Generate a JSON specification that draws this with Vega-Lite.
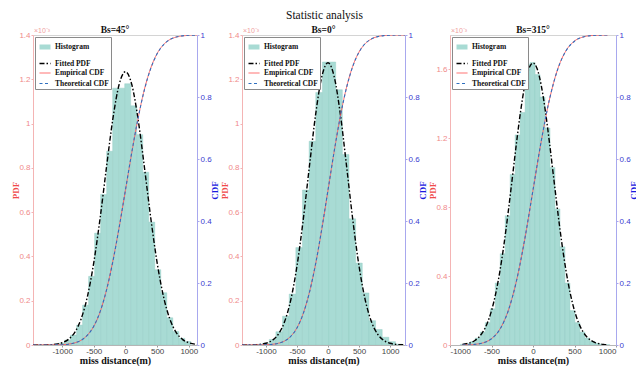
{
  "$schema": "https://vega.github.io/schema/vega-lite/v6.json",
  "background": "white",
  "padding": {"left": 10, "top": 10, "right": 2, "bottom": 0},
  "title": {"text": "Statistic analysis", "anchor": "middle", "frame": "bounds", "font": "Liberation Serif", "fontSize": 11.5, "fontWeight": "normal", "color": "#111", "offset": 3},
  "spacing": 45,
  "bounds": "flush",
  "resolve": {
    "scale": {"color": "independent", "strokeDash": "independent", "strokeWidth": "independent"},
    "legend": {"color": "independent", "strokeDash": "independent", "strokeWidth": "independent"}
  },
  "datasets": {
    "h1": [
      {"x0": -1437, "x1": -1342, "h": 0.0004}, {"x0": -1342, "x1": -1247, "h": 0.0008}, {"x0": -1247, "x1": -1152, "h": 0.0015},
      {"x0": -1152, "x1": -1057, "h": 0.004}, {"x0": -1057, "x1": -962, "h": 0.009}, {"x0": -962, "x1": -867, "h": 0.022},
      {"x0": -867, "x1": -772, "h": 0.045}, {"x0": -772, "x1": -677, "h": 0.09}, {"x0": -677, "x1": -582, "h": 0.18},
      {"x0": -582, "x1": -487, "h": 0.31}, {"x0": -487, "x1": -392, "h": 0.505}, {"x0": -392, "x1": -297, "h": 0.68},
      {"x0": -297, "x1": -202, "h": 0.875}, {"x0": -202, "x1": -107, "h": 1.16}, {"x0": -107, "x1": -12, "h": 1.16},
      {"x0": -12, "x1": 83, "h": 1.18}, {"x0": 83, "x1": 178, "h": 1.08}, {"x0": 178, "x1": 273, "h": 0.95},
      {"x0": 273, "x1": 368, "h": 0.78}, {"x0": 368, "x1": 463, "h": 0.555}, {"x0": 463, "x1": 558, "h": 0.34},
      {"x0": 558, "x1": 653, "h": 0.236}, {"x0": 653, "x1": 748, "h": 0.123}, {"x0": 748, "x1": 843, "h": 0.061},
      {"x0": 843, "x1": 938, "h": 0.03}, {"x0": 938, "x1": 1033, "h": 0.016}
    ],
    "p1": [
      {"x": -1460, "p": 0.00005}, {"x": -1400, "p": 0.0001}, {"x": -1300, "p": 0.00037}, {"x": -1200, "p": 0.00124},
      {"x": -1100, "p": 0.0037}, {"x": -1000, "p": 0.0102}, {"x": -900, "p": 0.0254}, {"x": -800, "p": 0.0574},
      {"x": -700, "p": 0.1179}, {"x": -600, "p": 0.2198}, {"x": -500, "p": 0.3724}, {"x": -400, "p": 0.5732},
      {"x": -300, "p": 0.8016}, {"x": -200, "p": 1.0188}, {"x": -100, "p": 1.1763}, {"x": 0, "p": 1.234},
      {"x": 100, "p": 1.1763}, {"x": 200, "p": 1.0188}, {"x": 300, "p": 0.8016}, {"x": 400, "p": 0.5732},
      {"x": 500, "p": 0.3724}, {"x": 600, "p": 0.2198}, {"x": 700, "p": 0.1179}, {"x": 800, "p": 0.0574},
      {"x": 900, "p": 0.0254}, {"x": 1000, "p": 0.0102}, {"x": 1100, "p": 0.0037}, {"x": 1130, "p": 0.0027}
    ],
    "t1": [
      {"x": -1460, "c": 0}, {"x": -1400, "c": 0.00001}, {"x": -1300, "c": 0.00003}, {"x": -1200, "c": 0.0001},
      {"x": -1100, "c": 0.00033}, {"x": -1000, "c": 0.00098}, {"x": -900, "c": 0.00267}, {"x": -800, "c": 0.00663},
      {"x": -700, "c": 0.0151}, {"x": -600, "c": 0.0316}, {"x": -500, "c": 0.0608}, {"x": -400, "c": 0.1078},
      {"x": -300, "c": 0.1765}, {"x": -200, "c": 0.2679}, {"x": -100, "c": 0.3784}, {"x": 0, "c": 0.5},
      {"x": 100, "c": 0.6216}, {"x": 200, "c": 0.7321}, {"x": 300, "c": 0.8235}, {"x": 400, "c": 0.8922},
      {"x": 500, "c": 0.9392}, {"x": 600, "c": 0.9684}, {"x": 700, "c": 0.9849}, {"x": 800, "c": 0.9934},
      {"x": 900, "c": 0.9973}, {"x": 1000, "c": 0.999}, {"x": 1100, "c": 0.9997}, {"x": 1130, "c": 0.9998}
    ],
    "e1": [
      {"x": -1460, "c": 0}, {"x": -1300, "c": 0.0001}, {"x": -1100, "c": 0.0004}, {"x": -1000, "c": 0.0011},
      {"x": -900, "c": 0.003}, {"x": -800, "c": 0.0069}, {"x": -700, "c": 0.0155}, {"x": -600, "c": 0.0322},
      {"x": -500, "c": 0.0605}, {"x": -400, "c": 0.1065}, {"x": -300, "c": 0.1772}, {"x": -200, "c": 0.2701},
      {"x": -100, "c": 0.3795}, {"x": 0, "c": 0.4987}, {"x": 100, "c": 0.6203}, {"x": 200, "c": 0.7318},
      {"x": 300, "c": 0.8251}, {"x": 400, "c": 0.8935}, {"x": 500, "c": 0.9401}, {"x": 600, "c": 0.9688},
      {"x": 700, "c": 0.9852}, {"x": 800, "c": 0.9931}, {"x": 900, "c": 0.997}, {"x": 1000, "c": 0.9992},
      {"x": 1033, "c": 1}, {"x": 1130, "c": 1}
    ],
    "h2": [
      {"x0": -1374, "x1": -1267, "h": 0.0003}, {"x0": -1267, "x1": -1160, "h": 0.001}, {"x0": -1160, "x1": -1053, "h": 0.003},
      {"x0": -1053, "x1": -946, "h": 0.008}, {"x0": -946, "x1": -839, "h": 0.025}, {"x0": -839, "x1": -732, "h": 0.06},
      {"x0": -732, "x1": -625, "h": 0.13}, {"x0": -625, "x1": -518, "h": 0.23}, {"x0": -518, "x1": -411, "h": 0.44},
      {"x0": -411, "x1": -304, "h": 0.7}, {"x0": -304, "x1": -197, "h": 0.92}, {"x0": -197, "x1": -90, "h": 1.14},
      {"x0": -90, "x1": 17, "h": 1.278}, {"x0": 17, "x1": 124, "h": 1.278}, {"x0": 124, "x1": 231, "h": 1.153},
      {"x0": 231, "x1": 338, "h": 0.86}, {"x0": 338, "x1": 445, "h": 0.57}, {"x0": 445, "x1": 552, "h": 0.37},
      {"x0": 552, "x1": 659, "h": 0.235}, {"x0": 659, "x1": 766, "h": 0.11}, {"x0": 766, "x1": 873, "h": 0.07},
      {"x0": 873, "x1": 980, "h": 0.035}, {"x0": 980, "x1": 1087, "h": 0.015}, {"x0": 1087, "x1": 1194, "h": 0.004}
    ],
    "p2": [
      {"x": -1385, "p": 0.00007}, {"x": -1300, "p": 0.00023}, {"x": -1200, "p": 0.00082}, {"x": -1100, "p": 0.00265},
      {"x": -1000, "p": 0.00774}, {"x": -900, "p": 0.0204}, {"x": -800, "p": 0.0486}, {"x": -700, "p": 0.1046},
      {"x": -600, "p": 0.203}, {"x": -500, "p": 0.356}, {"x": -400, "p": 0.5635}, {"x": -300, "p": 0.8054},
      {"x": -200, "p": 1.0395}, {"x": -100, "p": 1.2116}, {"x": 0, "p": 1.275}, {"x": 100, "p": 1.2116},
      {"x": 200, "p": 1.0395}, {"x": 300, "p": 0.8054}, {"x": 400, "p": 0.5635}, {"x": 500, "p": 0.356},
      {"x": 600, "p": 0.203}, {"x": 700, "p": 0.1046}, {"x": 800, "p": 0.0486}, {"x": 900, "p": 0.0204},
      {"x": 1000, "p": 0.00774}, {"x": 1100, "p": 0.00265}, {"x": 1200, "p": 0.00082}, {"x": 1240, "p": 0.0005}
    ],
    "t2": [
      {"x": -1385, "c": 0}, {"x": -1300, "c": 0.00002}, {"x": -1200, "c": 0.00006}, {"x": -1100, "c": 0.00022},
      {"x": -1000, "c": 0.0007}, {"x": -900, "c": 0.00202}, {"x": -800, "c": 0.0053}, {"x": -700, "c": 0.01267},
      {"x": -600, "c": 0.02762}, {"x": -500, "c": 0.05512}, {"x": -400, "c": 0.1006}, {"x": -300, "c": 0.1689},
      {"x": -200, "c": 0.2614}, {"x": -100, "c": 0.3747}, {"x": 0, "c": 0.5}, {"x": 100, "c": 0.6253},
      {"x": 200, "c": 0.7386}, {"x": 300, "c": 0.8311}, {"x": 400, "c": 0.8994}, {"x": 500, "c": 0.9449},
      {"x": 600, "c": 0.9724}, {"x": 700, "c": 0.9873}, {"x": 800, "c": 0.9947}, {"x": 900, "c": 0.998},
      {"x": 1000, "c": 0.9993}, {"x": 1100, "c": 0.9998}, {"x": 1200, "c": 0.9999}, {"x": 1240, "c": 1}
    ],
    "e2": [
      {"x": -1385, "c": 0}, {"x": -1200, "c": 0.0001}, {"x": -1100, "c": 0.0003}, {"x": -1000, "c": 0.0008},
      {"x": -900, "c": 0.0022}, {"x": -800, "c": 0.0056}, {"x": -700, "c": 0.013}, {"x": -600, "c": 0.0281},
      {"x": -500, "c": 0.0556}, {"x": -400, "c": 0.1012}, {"x": -300, "c": 0.1695}, {"x": -200, "c": 0.2608},
      {"x": -100, "c": 0.3735}, {"x": 0, "c": 0.4992}, {"x": 100, "c": 0.6248}, {"x": 200, "c": 0.7392},
      {"x": 300, "c": 0.8322}, {"x": 400, "c": 0.9003}, {"x": 500, "c": 0.9452}, {"x": 600, "c": 0.9722},
      {"x": 700, "c": 0.9871}, {"x": 800, "c": 0.9949}, {"x": 900, "c": 0.9982}, {"x": 1000, "c": 0.9994},
      {"x": 1141, "c": 1}, {"x": 1240, "c": 1}
    ],
    "h3": [
      {"x0": -875, "x1": -815, "h": 0.004}, {"x0": -815, "x1": -755, "h": 0.009}, {"x0": -755, "x1": -695, "h": 0.02},
      {"x0": -695, "x1": -635, "h": 0.04}, {"x0": -635, "x1": -575, "h": 0.075}, {"x0": -575, "x1": -515, "h": 0.13},
      {"x0": -515, "x1": -455, "h": 0.21}, {"x0": -455, "x1": -395, "h": 0.36}, {"x0": -395, "x1": -335, "h": 0.53},
      {"x0": -335, "x1": -275, "h": 0.75}, {"x0": -275, "x1": -215, "h": 0.99}, {"x0": -215, "x1": -155, "h": 1.22},
      {"x0": -155, "x1": -95, "h": 1.35}, {"x0": -95, "x1": -35, "h": 1.63}, {"x0": -35, "x1": 25, "h": 1.64},
      {"x0": 25, "x1": 85, "h": 1.57}, {"x0": 85, "x1": 145, "h": 1.44}, {"x0": 145, "x1": 205, "h": 1.26},
      {"x0": 205, "x1": 265, "h": 1.03}, {"x0": 265, "x1": 325, "h": 0.79}, {"x0": 325, "x1": 385, "h": 0.57},
      {"x0": 385, "x1": 445, "h": 0.36}, {"x0": 445, "x1": 505, "h": 0.2}, {"x0": 505, "x1": 565, "h": 0.13},
      {"x0": 565, "x1": 625, "h": 0.075}, {"x0": 625, "x1": 685, "h": 0.04}, {"x0": 685, "x1": 745, "h": 0.02},
      {"x0": 745, "x1": 805, "h": 0.01}, {"x0": 805, "x1": 865, "h": 0.004}, {"x0": 865, "x1": 925, "h": 0.002}
    ],
    "p3": [
      {"x": -850, "p": 0.0037}, {"x": -800, "p": 0.0074}, {"x": -750, "p": 0.0143}, {"x": -700, "p": 0.0263},
      {"x": -650, "p": 0.0465}, {"x": -600, "p": 0.0787}, {"x": -550, "p": 0.1278}, {"x": -500, "p": 0.199},
      {"x": -450, "p": 0.297}, {"x": -400, "p": 0.425}, {"x": -350, "p": 0.583}, {"x": -300, "p": 0.7668},
      {"x": -250, "p": 0.967}, {"x": -200, "p": 1.1691}, {"x": -150, "p": 1.3549}, {"x": -100, "p": 1.5055},
      {"x": -50, "p": 1.6038}, {"x": 0, "p": 1.638}, {"x": 50, "p": 1.6038}, {"x": 100, "p": 1.5055},
      {"x": 150, "p": 1.3549}, {"x": 200, "p": 1.1691}, {"x": 250, "p": 0.967}, {"x": 300, "p": 0.7668},
      {"x": 350, "p": 0.583}, {"x": 400, "p": 0.425}, {"x": 450, "p": 0.297}, {"x": 500, "p": 0.199},
      {"x": 550, "p": 0.1278}, {"x": 600, "p": 0.0787}, {"x": 650, "p": 0.0465}, {"x": 700, "p": 0.0263},
      {"x": 750, "p": 0.0143}, {"x": 800, "p": 0.0074}, {"x": 850, "p": 0.0037}, {"x": 900, "p": 0.0018}
    ],
    "t3": [
      {"x": -850, "c": 0.00024}, {"x": -800, "c": 0.00051}, {"x": -700, "c": 0.00202}, {"x": -600, "c": 0.00687},
      {"x": -500, "c": 0.02003}, {"x": -400, "c": 0.0502}, {"x": -300, "c": 0.109}, {"x": -200, "c": 0.2058},
      {"x": -100, "c": 0.3407}, {"x": 0, "c": 0.5}, {"x": 100, "c": 0.6593}, {"x": 200, "c": 0.7942},
      {"x": 300, "c": 0.891}, {"x": 400, "c": 0.9498}, {"x": 500, "c": 0.98}, {"x": 600, "c": 0.9931},
      {"x": 700, "c": 0.998}, {"x": 800, "c": 0.9995}, {"x": 900, "c": 0.9999}
    ],
    "e3": [
      {"x": -850, "c": 0.0002}, {"x": -800, "c": 0.0006}, {"x": -700, "c": 0.0022}, {"x": -600, "c": 0.0071},
      {"x": -500, "c": 0.0205}, {"x": -400, "c": 0.0508}, {"x": -300, "c": 0.1097}, {"x": -200, "c": 0.2062},
      {"x": -100, "c": 0.3402}, {"x": 0, "c": 0.4988}, {"x": 100, "c": 0.6581}, {"x": 200, "c": 0.7936},
      {"x": 300, "c": 0.8918}, {"x": 400, "c": 0.9505}, {"x": 500, "c": 0.9806}, {"x": 600, "c": 0.9934},
      {"x": 700, "c": 0.9982}, {"x": 800, "c": 0.9996}, {"x": 900, "c": 1}
    ]
  },
  "hconcat": [
    {
      "width": 164, "height": 310,
      "title": {"text": "Bs=45°"},
      "layer": [
        {
          "layer": [
            {
              "data": {"name": "h1"},
              "mark": {"type": "bar", "stroke": "#8fcac2", "strokeWidth": 0.4, "clip": true},
              "encoding": {
                "x": {"field": "x0", "type": "quantitative", "scale": {"domain": [-1460, 1130], "nice": false, "zero": false}, "axis": {"values": [-1000, -500, 0, 500, 1000], "labelExpr": "'' + datum.value"}, "title": "miss distance(m)"},
                "x2": {"field": "x1"},
                "y": {"field": "h", "type": "quantitative", "scale": {"domain": [0, 1.4], "nice": false}, "axis": {"values": [0, 0.2, 0.4, 0.6, 0.8, 1, 1.2, 1.4], "format": "~g"}, "title": "PDF"},
                "y2": {"datum": 0},
                "color": {"datum": "Histogram", "type": "nominal", "scale": {"domain": ["Histogram", "Fitted PDF", "Empirical CDF", "Theoretical CDF"], "range": ["#a8dbd4", "#000000", "#ff5f5f", "#2f6fbf"]}, "legend": {"title": null, "symbolType": "stroke"}}
              }
            },
            {
              "data": {"name": "p1"},
              "mark": {"type": "line", "interpolate": "monotone", "clip": true},
              "encoding": {
                "x": {"field": "x", "type": "quantitative", "scale": {"domain": [-1460, 1130], "nice": false, "zero": false}, "title": "miss distance(m)"},
                "y": {"field": "p", "type": "quantitative", "scale": {"domain": [0, 1.4], "nice": false}, "title": "PDF"},
                "color": {"datum": "Fitted PDF", "type": "nominal", "scale": {"domain": ["Histogram", "Fitted PDF", "Empirical CDF", "Theoretical CDF"], "range": ["#a8dbd4", "#000000", "#ff5f5f", "#2f6fbf"]}, "legend": {"title": null, "symbolType": "stroke"}},
                "strokeDash": {"datum": "Fitted PDF", "type": "nominal", "scale": {"type": "ordinal", "domain": ["Histogram", "Fitted PDF", "Empirical CDF", "Theoretical CDF"], "range": [[1, 0], [5, 2, 1.5, 2], [1, 0], [3, 2.5]]}, "legend": {"title": null, "symbolType": "stroke"}},
                "strokeWidth": {"datum": "Fitted PDF", "type": "nominal", "scale": {"type": "ordinal", "domain": ["Histogram", "Fitted PDF", "Empirical CDF", "Theoretical CDF"], "range": [5, 1.4, 1, 1.1]}, "legend": {"title": null, "symbolType": "stroke"}}
              }
            },
            {
              "data": {"values": [{}]},
              "mark": {"type": "text", "text": "×10⁻³", "align": "left", "baseline": "bottom", "dx": 1, "dy": -1, "font": "Liberation Sans", "fontSize": 7, "fill": "#f0a0a0"},
              "encoding": {
                "x": {"datum": -1460, "type": "quantitative"},
                "y": {"datum": 1.4, "type": "quantitative"}
              }
            }
          ]
        },
        {
          "layer": [
            {
              "data": {"name": "e1"},
              "mark": {"type": "line", "interpolate": "monotone", "clip": true},
              "encoding": {
                "x": {"field": "x", "type": "quantitative", "scale": {"domain": [-1460, 1130], "nice": false, "zero": false}, "title": "miss distance(m)"},
                "y": {"field": "c", "type": "quantitative", "scale": {"domain": [0, 1], "nice": false}, "axis": {"orient": "right", "values": [0, 0.1, 0.2, 0.3, 0.4, 0.5, 0.6, 0.7, 0.8, 0.9, 1], "format": "~g"}, "title": "CDF"},
                "color": {"datum": "Empirical CDF", "type": "nominal", "scale": {"domain": ["Histogram", "Fitted PDF", "Empirical CDF", "Theoretical CDF"], "range": ["#a8dbd4", "#000000", "#ff5f5f", "#2f6fbf"]}, "legend": {"title": null, "symbolType": "stroke"}},
                "strokeDash": {"datum": "Empirical CDF", "type": "nominal", "scale": {"type": "ordinal", "domain": ["Histogram", "Fitted PDF", "Empirical CDF", "Theoretical CDF"], "range": [[1, 0], [5, 2, 1.5, 2], [1, 0], [3, 2.5]]}, "legend": {"title": null, "symbolType": "stroke"}},
                "strokeWidth": {"datum": "Empirical CDF", "type": "nominal", "scale": {"type": "ordinal", "domain": ["Histogram", "Fitted PDF", "Empirical CDF", "Theoretical CDF"], "range": [5, 1.4, 1, 1.1]}, "legend": {"title": null, "symbolType": "stroke"}}
              }
            },
            {
              "data": {"name": "t1"},
              "mark": {"type": "line", "interpolate": "monotone", "clip": true},
              "encoding": {
                "x": {"field": "x", "type": "quantitative", "scale": {"domain": [-1460, 1130], "nice": false, "zero": false}, "title": "miss distance(m)"},
                "y": {"field": "c", "type": "quantitative", "scale": {"domain": [0, 1], "nice": false}, "title": "CDF"},
                "color": {"datum": "Theoretical CDF", "type": "nominal", "scale": {"domain": ["Histogram", "Fitted PDF", "Empirical CDF", "Theoretical CDF"], "range": ["#a8dbd4", "#000000", "#ff5f5f", "#2f6fbf"]}, "legend": {"title": null, "symbolType": "stroke"}},
                "strokeDash": {"datum": "Theoretical CDF", "type": "nominal", "scale": {"type": "ordinal", "domain": ["Histogram", "Fitted PDF", "Empirical CDF", "Theoretical CDF"], "range": [[1, 0], [5, 2, 1.5, 2], [1, 0], [3, 2.5]]}, "legend": {"title": null, "symbolType": "stroke"}},
                "strokeWidth": {"datum": "Theoretical CDF", "type": "nominal", "scale": {"type": "ordinal", "domain": ["Histogram", "Fitted PDF", "Empirical CDF", "Theoretical CDF"], "range": [5, 1.4, 1, 1.1]}, "legend": {"title": null, "symbolType": "stroke"}}
              }
            }
          ]
        }
      ],
      "resolve": {"scale": {"y": "independent"}}
    },
    {
      "width": 163, "height": 310,
      "title": {"text": "Bs=0°"},
      "layer": [
        {
          "layer": [
            {
              "data": {"name": "h2"},
              "mark": {"type": "bar", "stroke": "#8fcac2", "strokeWidth": 0.4, "clip": true},
              "encoding": {
                "x": {"field": "x0", "type": "quantitative", "scale": {"domain": [-1385, 1240], "nice": false, "zero": false}, "axis": {"values": [-1000, -500, 0, 500, 1000], "labelExpr": "'' + datum.value"}, "title": "miss distance(m)"},
                "x2": {"field": "x1"},
                "y": {"field": "h", "type": "quantitative", "scale": {"domain": [0, 1.4], "nice": false}, "axis": {"values": [0, 0.2, 0.4, 0.6, 0.8, 1, 1.2, 1.4], "format": "~g"}, "title": "PDF"},
                "y2": {"datum": 0},
                "color": {"datum": "Histogram", "type": "nominal", "scale": {"domain": ["Histogram", "Fitted PDF", "Empirical CDF", "Theoretical CDF"], "range": ["#a8dbd4", "#000000", "#ff5f5f", "#2f6fbf"]}, "legend": {"title": null, "symbolType": "stroke"}}
              }
            },
            {
              "data": {"name": "p2"},
              "mark": {"type": "line", "interpolate": "monotone", "clip": true},
              "encoding": {
                "x": {"field": "x", "type": "quantitative", "scale": {"domain": [-1385, 1240], "nice": false, "zero": false}, "title": "miss distance(m)"},
                "y": {"field": "p", "type": "quantitative", "scale": {"domain": [0, 1.4], "nice": false}, "title": "PDF"},
                "color": {"datum": "Fitted PDF", "type": "nominal", "scale": {"domain": ["Histogram", "Fitted PDF", "Empirical CDF", "Theoretical CDF"], "range": ["#a8dbd4", "#000000", "#ff5f5f", "#2f6fbf"]}, "legend": {"title": null, "symbolType": "stroke"}},
                "strokeDash": {"datum": "Fitted PDF", "type": "nominal", "scale": {"type": "ordinal", "domain": ["Histogram", "Fitted PDF", "Empirical CDF", "Theoretical CDF"], "range": [[1, 0], [5, 2, 1.5, 2], [1, 0], [3, 2.5]]}, "legend": {"title": null, "symbolType": "stroke"}},
                "strokeWidth": {"datum": "Fitted PDF", "type": "nominal", "scale": {"type": "ordinal", "domain": ["Histogram", "Fitted PDF", "Empirical CDF", "Theoretical CDF"], "range": [5, 1.4, 1, 1.1]}, "legend": {"title": null, "symbolType": "stroke"}}
              }
            },
            {
              "data": {"values": [{}]},
              "mark": {"type": "text", "text": "×10⁻³", "align": "left", "baseline": "bottom", "dx": 1, "dy": -1, "font": "Liberation Sans", "fontSize": 7, "fill": "#f0a0a0"},
              "encoding": {
                "x": {"datum": -1385, "type": "quantitative"},
                "y": {"datum": 1.4, "type": "quantitative"}
              }
            }
          ]
        },
        {
          "layer": [
            {
              "data": {"name": "e2"},
              "mark": {"type": "line", "interpolate": "monotone", "clip": true},
              "encoding": {
                "x": {"field": "x", "type": "quantitative", "scale": {"domain": [-1385, 1240], "nice": false, "zero": false}, "title": "miss distance(m)"},
                "y": {"field": "c", "type": "quantitative", "scale": {"domain": [0, 1], "nice": false}, "axis": {"orient": "right", "values": [0, 0.1, 0.2, 0.3, 0.4, 0.5, 0.6, 0.7, 0.8, 0.9, 1], "format": "~g"}, "title": "CDF"},
                "color": {"datum": "Empirical CDF", "type": "nominal", "scale": {"domain": ["Histogram", "Fitted PDF", "Empirical CDF", "Theoretical CDF"], "range": ["#a8dbd4", "#000000", "#ff5f5f", "#2f6fbf"]}, "legend": {"title": null, "symbolType": "stroke"}},
                "strokeDash": {"datum": "Empirical CDF", "type": "nominal", "scale": {"type": "ordinal", "domain": ["Histogram", "Fitted PDF", "Empirical CDF", "Theoretical CDF"], "range": [[1, 0], [5, 2, 1.5, 2], [1, 0], [3, 2.5]]}, "legend": {"title": null, "symbolType": "stroke"}},
                "strokeWidth": {"datum": "Empirical CDF", "type": "nominal", "scale": {"type": "ordinal", "domain": ["Histogram", "Fitted PDF", "Empirical CDF", "Theoretical CDF"], "range": [5, 1.4, 1, 1.1]}, "legend": {"title": null, "symbolType": "stroke"}}
              }
            },
            {
              "data": {"name": "t2"},
              "mark": {"type": "line", "interpolate": "monotone", "clip": true},
              "encoding": {
                "x": {"field": "x", "type": "quantitative", "scale": {"domain": [-1385, 1240], "nice": false, "zero": false}, "title": "miss distance(m)"},
                "y": {"field": "c", "type": "quantitative", "scale": {"domain": [0, 1], "nice": false}, "title": "CDF"},
                "color": {"datum": "Theoretical CDF", "type": "nominal", "scale": {"domain": ["Histogram", "Fitted PDF", "Empirical CDF", "Theoretical CDF"], "range": ["#a8dbd4", "#000000", "#ff5f5f", "#2f6fbf"]}, "legend": {"title": null, "symbolType": "stroke"}},
                "strokeDash": {"datum": "Theoretical CDF", "type": "nominal", "scale": {"type": "ordinal", "domain": ["Histogram", "Fitted PDF", "Empirical CDF", "Theoretical CDF"], "range": [[1, 0], [5, 2, 1.5, 2], [1, 0], [3, 2.5]]}, "legend": {"title": null, "symbolType": "stroke"}},
                "strokeWidth": {"datum": "Theoretical CDF", "type": "nominal", "scale": {"type": "ordinal", "domain": ["Histogram", "Fitted PDF", "Empirical CDF", "Theoretical CDF"], "range": [5, 1.4, 1, 1.1]}, "legend": {"title": null, "symbolType": "stroke"}}
              }
            }
          ]
        }
      ],
      "resolve": {"scale": {"y": "independent"}}
    },
    {
      "width": 166, "height": 310,
      "title": {"text": "Bs=315°"},
      "layer": [
        {
          "layer": [
            {
              "data": {"name": "h3"},
              "mark": {"type": "bar", "stroke": "#8fcac2", "strokeWidth": 0.4, "clip": true},
              "encoding": {
                "x": {"field": "x0", "type": "quantitative", "scale": {"domain": [-1000, 1000], "nice": false, "zero": false}, "axis": {"values": [-1000, -500, 0, 500, 1000], "labelExpr": "'' + datum.value"}, "title": "miss distance(m)"},
                "x2": {"field": "x1"},
                "y": {"field": "h", "type": "quantitative", "scale": {"domain": [0, 1.8], "nice": false}, "axis": {"values": [0, 0.2, 0.4, 0.6, 0.8, 1, 1.2, 1.4, 1.6, 1.8], "format": "~g"}, "title": "PDF"},
                "y2": {"datum": 0},
                "color": {"datum": "Histogram", "type": "nominal", "scale": {"domain": ["Histogram", "Fitted PDF", "Empirical CDF", "Theoretical CDF"], "range": ["#a8dbd4", "#000000", "#ff5f5f", "#2f6fbf"]}, "legend": {"title": null, "symbolType": "stroke"}}
              }
            },
            {
              "data": {"name": "p3"},
              "mark": {"type": "line", "interpolate": "monotone", "clip": true},
              "encoding": {
                "x": {"field": "x", "type": "quantitative", "scale": {"domain": [-1000, 1000], "nice": false, "zero": false}, "title": "miss distance(m)"},
                "y": {"field": "p", "type": "quantitative", "scale": {"domain": [0, 1.8], "nice": false}, "title": "PDF"},
                "color": {"datum": "Fitted PDF", "type": "nominal", "scale": {"domain": ["Histogram", "Fitted PDF", "Empirical CDF", "Theoretical CDF"], "range": ["#a8dbd4", "#000000", "#ff5f5f", "#2f6fbf"]}, "legend": {"title": null, "symbolType": "stroke"}},
                "strokeDash": {"datum": "Fitted PDF", "type": "nominal", "scale": {"type": "ordinal", "domain": ["Histogram", "Fitted PDF", "Empirical CDF", "Theoretical CDF"], "range": [[1, 0], [5, 2, 1.5, 2], [1, 0], [3, 2.5]]}, "legend": {"title": null, "symbolType": "stroke"}},
                "strokeWidth": {"datum": "Fitted PDF", "type": "nominal", "scale": {"type": "ordinal", "domain": ["Histogram", "Fitted PDF", "Empirical CDF", "Theoretical CDF"], "range": [5, 1.4, 1, 1.1]}, "legend": {"title": null, "symbolType": "stroke"}}
              }
            },
            {
              "data": {"values": [{}]},
              "mark": {"type": "text", "text": "×10⁻³", "align": "left", "baseline": "bottom", "dx": 1, "dy": -1, "font": "Liberation Sans", "fontSize": 7, "fill": "#f0a0a0"},
              "encoding": {
                "x": {"datum": -1000, "type": "quantitative"},
                "y": {"datum": 1.8, "type": "quantitative"}
              }
            }
          ]
        },
        {
          "layer": [
            {
              "data": {"name": "e3"},
              "mark": {"type": "line", "interpolate": "monotone", "clip": true},
              "encoding": {
                "x": {"field": "x", "type": "quantitative", "scale": {"domain": [-1000, 1000], "nice": false, "zero": false}, "title": "miss distance(m)"},
                "y": {"field": "c", "type": "quantitative", "scale": {"domain": [0, 1], "nice": false}, "axis": {"orient": "right", "values": [0, 0.1, 0.2, 0.3, 0.4, 0.5, 0.6, 0.7, 0.8, 0.9, 1], "format": "~g"}, "title": "CDF"},
                "color": {"datum": "Empirical CDF", "type": "nominal", "scale": {"domain": ["Histogram", "Fitted PDF", "Empirical CDF", "Theoretical CDF"], "range": ["#a8dbd4", "#000000", "#ff5f5f", "#2f6fbf"]}, "legend": {"title": null, "symbolType": "stroke"}},
                "strokeDash": {"datum": "Empirical CDF", "type": "nominal", "scale": {"type": "ordinal", "domain": ["Histogram", "Fitted PDF", "Empirical CDF", "Theoretical CDF"], "range": [[1, 0], [5, 2, 1.5, 2], [1, 0], [3, 2.5]]}, "legend": {"title": null, "symbolType": "stroke"}},
                "strokeWidth": {"datum": "Empirical CDF", "type": "nominal", "scale": {"type": "ordinal", "domain": ["Histogram", "Fitted PDF", "Empirical CDF", "Theoretical CDF"], "range": [5, 1.4, 1, 1.1]}, "legend": {"title": null, "symbolType": "stroke"}}
              }
            },
            {
              "data": {"name": "t3"},
              "mark": {"type": "line", "interpolate": "monotone", "clip": true},
              "encoding": {
                "x": {"field": "x", "type": "quantitative", "scale": {"domain": [-1000, 1000], "nice": false, "zero": false}, "title": "miss distance(m)"},
                "y": {"field": "c", "type": "quantitative", "scale": {"domain": [0, 1], "nice": false}, "title": "CDF"},
                "color": {"datum": "Theoretical CDF", "type": "nominal", "scale": {"domain": ["Histogram", "Fitted PDF", "Empirical CDF", "Theoretical CDF"], "range": ["#a8dbd4", "#000000", "#ff5f5f", "#2f6fbf"]}, "legend": {"title": null, "symbolType": "stroke"}},
                "strokeDash": {"datum": "Theoretical CDF", "type": "nominal", "scale": {"type": "ordinal", "domain": ["Histogram", "Fitted PDF", "Empirical CDF", "Theoretical CDF"], "range": [[1, 0], [5, 2, 1.5, 2], [1, 0], [3, 2.5]]}, "legend": {"title": null, "symbolType": "stroke"}},
                "strokeWidth": {"datum": "Theoretical CDF", "type": "nominal", "scale": {"type": "ordinal", "domain": ["Histogram", "Fitted PDF", "Empirical CDF", "Theoretical CDF"], "range": [5, 1.4, 1, 1.1]}, "legend": {"title": null, "symbolType": "stroke"}}
              }
            }
          ]
        }
      ],
      "resolve": {"scale": {"y": "independent"}}
    }
  ],
  "config": {
    "view": {"stroke": "#d4d4d4", "strokeWidth": 1},
    "title": {"font": "Liberation Serif", "fontSize": 9.5, "fontWeight": "bold", "color": "#111", "offset": -7.5, "frame": "group"},
    "axis": {"grid": false},
    "legend": {"orient": "top-left", "offset": 1.5, "padding": 2, "strokeColor": "#8a8a8a", "fillColor": "white", "labelFont": "Liberation Serif", "labelFontWeight": "bold", "labelFontSize": 7.5, "labelColor": "#111", "labelOffset": 2, "rowPadding": -2.5, "symbolSize": 121, "symbolType": "stroke", "symbolOpacity": 1},
    "axisBottom": {"labelFont": "'Liberation Sans Narrow', 'Liberation Sans'", "labelFontSize": 8, "labelColor": "#444", "tickColor": "#999", "domainColor": "#b5b5b5", "tickSize": 2, "labelPadding": 0.5, "titleFont": "Liberation Serif", "titleFontWeight": "bold", "titleFontSize": 10, "titleColor": "#111", "titlePadding": 0},
    "axisLeft": {"labelFont": "'Liberation Sans Narrow', 'Liberation Sans'", "labelFontSize": 8, "labelColor": "#f08a8a", "tickColor": "#f4b4b4", "domainColor": "#f4b4b4", "tickSize": 2, "labelPadding": 1, "titleFont": "Liberation Serif", "titleFontWeight": "bold", "titleFontSize": 9, "titleColor": "#f04a4a", "titleX": -13, "titleBaseline": "bottom"},
    "axisRight": {"labelFont": "'Liberation Sans Narrow', 'Liberation Sans'", "labelFontSize": 8, "labelColor": "#3b3bd0", "tickColor": "#a8a8ee", "domainColor": "#a8a8ee", "tickSize": 2, "labelPadding": 1, "titleFont": "Liberation Serif", "titleFontWeight": "bold", "titleFontSize": 9, "titleColor": "#1a1ae0", "titleAngle": 270, "titleBaseline": "top", "titleX": 13}
  }
}
